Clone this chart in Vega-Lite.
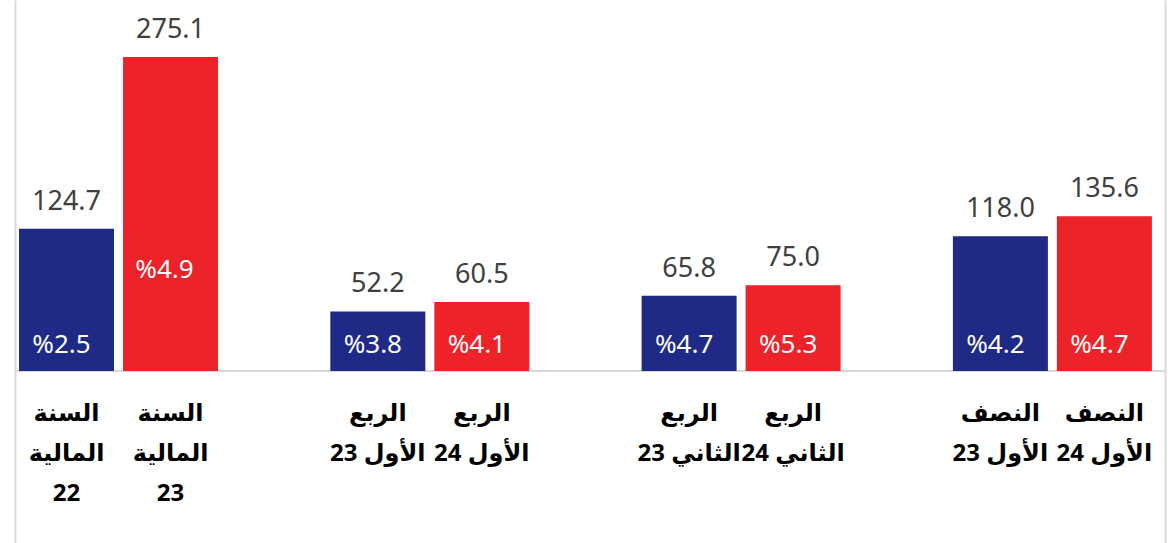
{
  "$schema": "https://vega.github.io/schema/vega-lite/v6.json",
  "autosize": "none",
  "width": 1150,
  "height": 543,
  "padding": {"left": 15, "top": 0, "right": 3, "bottom": 0},
  "background": "white",
  "config": {"view": {"stroke": null}},
  "data": {
    "values": [
      {"group": "السنة المالية", "period": "السابق", "value": 124.7, "pct": "%2.5", "label": "السنة|المالية|22"},
      {"group": "السنة المالية", "period": "الحالي", "value": 275.1, "pct": "%4.9", "label": "السنة|المالية|23"},
      {"group": "الربع الأول", "period": "السابق", "value": 52.2, "pct": "%3.8", "label": "الربع|الأول 23"},
      {"group": "الربع الأول", "period": "الحالي", "value": 60.5, "pct": "%4.1", "label": "الربع|الأول 24"},
      {"group": "الربع الثاني", "period": "السابق", "value": 65.8, "pct": "%4.7", "label": "الربع|الثاني 23"},
      {"group": "الربع الثاني", "period": "الحالي", "value": 75.0, "pct": "%5.3", "label": "الربع|الثاني 24"},
      {"group": "النصف الأول", "period": "السابق", "value": 118.0, "pct": "%4.2", "label": "النصف|الأول 23"},
      {"group": "النصف الأول", "period": "الحالي", "value": 135.6, "pct": "%4.7", "label": "النصف|الأول 24"}
    ]
  },
  "encoding": {
    "x": {
      "field": "group", "type": "nominal",
      "sort": ["السنة المالية", "الربع الأول", "الربع الثاني", "النصف الأول"],
      "scale": {"paddingInner": 0.3607, "paddingOuter": 0.0275, "align": 0.235},
      "axis": null
    },
    "xOffset": {
      "field": "period", "type": "nominal",
      "sort": ["السابق", "الحالي"],
      "scale": {"paddingInner": 0.0865, "paddingOuter": 0}
    }
  },
  "layer": [
    {
      "mark": {"type": "rule", "color": "#D9D9D9", "strokeWidth": 2},
      "encoding": {
        "x": null,
        "xOffset": null,
        "y": {
          "datum": 0, "type": "quantitative",
          "scale": {"domain": [-150.7, 325], "nice": false, "zero": false},
          "axis": {"orient": "left", "domain": true, "domainColor": "#D9D9D9", "domainWidth": 2, "labels": false, "ticks": false, "grid": false, "title": null}
        }
      }
    },
    {
      "mark": {"type": "bar"},
      "encoding": {
        "y": {
          "field": "value", "type": "quantitative",
          "axis": {"orient": "right", "domain": true, "domainColor": "#D9D9D9", "domainWidth": 2, "labels": false, "ticks": false, "grid": false, "title": null}
        },
        "y2": {"datum": 0},
        "color": {
          "field": "period", "type": "nominal",
          "scale": {"domain": ["السابق", "الحالي"], "range": ["#1F2A86", "#EE2229"]},
          "legend": null
        }
      }
    },
    {
      "mark": {"type": "text", "font": "Noto Sans", "fontSize": 27, "color": "#404040", "baseline": "alphabetic", "dy": -19},
      "encoding": {
        "y": {"field": "value", "type": "quantitative", "axis": null},
        "text": {"field": "value", "type": "quantitative", "format": ".1f"}
      }
    },
    {
      "transform": [{"filter": "datum.value != 275.1"}],
      "mark": {"type": "text", "font": "Noto Sans", "fontSize": 26, "color": "white", "baseline": "alphabetic", "dx": -5},
      "encoding": {
        "y": {"datum": 15.8, "type": "quantitative", "axis": null},
        "text": {"field": "pct", "type": "nominal"}
      }
    },
    {
      "transform": [{"filter": "datum.value == 275.1"}],
      "mark": {"type": "text", "font": "Noto Sans", "fontSize": 26, "color": "white", "baseline": "alphabetic", "dx": -6},
      "encoding": {
        "y": {"datum": 81.5, "type": "quantitative", "axis": null},
        "text": {"field": "pct", "type": "nominal"}
      }
    },
    {
      "mark": {"type": "text", "font": "Noto Sans, DejaVu Sans", "fontSize": 24, "fontWeight": "bold", "color": "black", "baseline": "alphabetic", "dy": 50, "lineBreak": "|", "lineHeight": 40},
      "encoding": {
        "y": {"datum": 0, "type": "quantitative", "axis": null},
        "text": {"field": "label", "type": "nominal"}
      }
    }
  ],
  "resolve": {"axis": {"y": "independent"}}
}
